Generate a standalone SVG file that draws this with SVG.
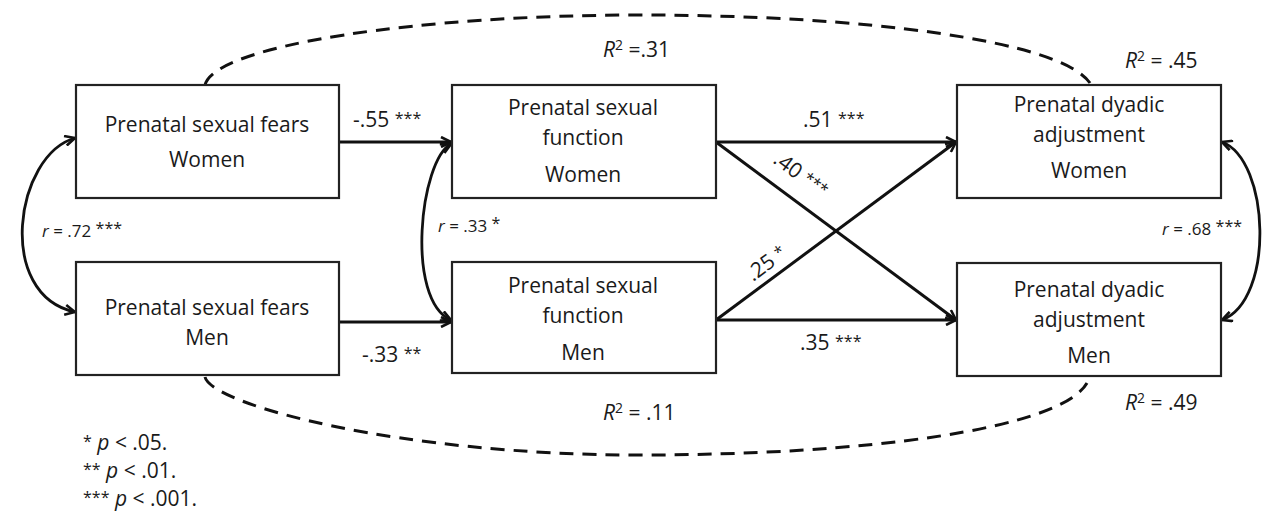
<svg xmlns="http://www.w3.org/2000/svg" width="1267" height="513" viewBox="0 0 1267 513">
<style>
.box{fill:#fff;stroke:#222;stroke-width:2.2}
.nt{font-family:"Open Sans","Liberation Sans",sans-serif;font-size:21px;fill:#1a1a1a;text-anchor:middle}
.lb{font-family:"Open Sans","Liberation Sans",sans-serif;font-size:21px;fill:#1a1a1a}
.sm{font-family:"Open Sans","Liberation Sans",sans-serif;font-size:17px;fill:#1a1a1a}
.st{font-size:16px}
.sq{font-size:14px}
.it{font-style:italic}
.ar{fill:none;stroke:#111;stroke-width:3}
.cv{fill:none;stroke:#111;stroke-width:2.8}
.ds{fill:none;stroke:#111;stroke-width:3;stroke-dasharray:14 9}
</style>
<defs>
<marker id="ah" viewBox="0 0 12 12" refX="11" refY="6" markerWidth="12" markerHeight="12" markerUnits="userSpaceOnUse" orient="auto-start-reverse">
<path d="M1,1 L11,6 L1,11" fill="none" stroke="#111" stroke-width="2.6"/>
</marker>
</defs>
<g id="connectors">
<path class="ds" d="M205,85 C215,45 420,15 640,15 C860,15 1060,40 1090,83"/>
<path class="ds" d="M205,377 C212,405 400,455 640,455 C860,455 1060,430 1087,383"/>
<line class="ar" x1="339" y1="142" x2="451" y2="142" marker-end="url(#ah)"/>
<line class="ar" x1="339" y1="322" x2="451" y2="322" marker-end="url(#ah)"/>
<line class="ar" x1="716" y1="142" x2="956" y2="142" marker-end="url(#ah)"/>
<line class="ar" x1="716" y1="320" x2="956" y2="320" marker-end="url(#ah)"/>
<line class="ar" x1="716" y1="142" x2="956" y2="320" marker-end="url(#ah)"/>
<line class="ar" x1="716" y1="320" x2="956" y2="142" marker-end="url(#ah)"/>
<path class="cv" d="M75,138 C15,155 -5,295 75,312" marker-start="url(#ah)" marker-end="url(#ah)"/>
<path class="cv" d="M451,144 C420,160 405,300 451,320" marker-start="url(#ah)" marker-end="url(#ah)"/>
<path class="cv" d="M1222,142 C1270,160 1275,300 1222,320" marker-start="url(#ah)" marker-end="url(#ah)"/>
</g>
<g id="fearsW"><rect class="box" x="76" y="85" width="263" height="113"/><text class="nt" x="207" y="132">Prenatal sexual fears</text><text class="nt" x="207" y="167">Women</text></g>
<g id="fearsM"><rect class="box" x="76" y="262" width="263" height="113"/><text class="nt" x="207" y="315">Prenatal sexual fears</text><text class="nt" x="207" y="345">Men</text></g>
<g id="funcW"><rect class="box" x="452" y="85" width="264" height="113"/><text class="nt" x="583" y="115">Prenatal sexual</text><text class="nt" x="583" y="145">function</text><text class="nt" x="583" y="182">Women</text></g>
<g id="funcM"><rect class="box" x="452" y="262" width="264" height="111"/><text class="nt" x="583" y="293">Prenatal sexual</text><text class="nt" x="583" y="323">function</text><text class="nt" x="583" y="360">Men</text></g>
<g id="dyadW"><rect class="box" x="957" y="85" width="264" height="113"/><text class="nt" x="1089" y="112">Prenatal dyadic</text><text class="nt" x="1089" y="142">adjustment</text><text class="nt" x="1089" y="178">Women</text></g>
<g id="dyadM"><rect class="box" x="957" y="263" width="264" height="113"/><text class="nt" x="1089" y="297">Prenatal dyadic</text><text class="nt" x="1089" y="327">adjustment</text><text class="nt" x="1089" y="363">Men</text></g>
<g id="labels">
<text class="lb" x="603" y="57"><tspan class="it">R</tspan><tspan class="sq" dy="-7">2</tspan><tspan dy="7"> =.31</tspan></text>
<text class="lb" x="1125" y="68"><tspan class="it">R</tspan><tspan class="sq" dy="-7">2</tspan><tspan dy="7"> = .45</tspan></text>
<text class="lb" x="603" y="420"><tspan class="it">R</tspan><tspan class="sq" dy="-7">2</tspan><tspan dy="7"> = .11</tspan></text>
<text class="lb" x="1125" y="410"><tspan class="it">R</tspan><tspan class="sq" dy="-7">2</tspan><tspan dy="7"> = .49</tspan></text>
<text class="lb" x="353" y="127">-.55 <tspan class="st" dy="-3">***</tspan></text>
<text class="lb" x="803" y="127">.51 <tspan class="st" dy="-3">***</tspan></text>
<text class="lb" x="362" y="362">-.33 <tspan class="st" dy="-3">**</tspan></text>
<text class="lb" x="800" y="350">.35 <tspan class="st" dy="-3">***</tspan></text>
<text class="lb" transform="translate(772,162) rotate(36.5)">.40 <tspan class="st" dy="-3">***</tspan></text>
<text class="lb" transform="translate(753,282) rotate(-36.5)">.25 <tspan class="st" dy="-3">*</tspan></text>
<text class="sm" x="42" y="237"><tspan class="it">r</tspan> = .72 <tspan class="st" dy="-3">***</tspan></text>
<text class="sm" x="438" y="232"><tspan class="it">r</tspan> = .33 <tspan class="st" dy="-3">*</tspan></text>
<text class="sm" x="1162" y="235"><tspan class="it">r</tspan> = .68 <tspan class="st" dy="-3">***</tspan></text>
<text class="lb" x="83" y="450"><tspan class="st" dy="-3">*</tspan><tspan dy="3"> </tspan><tspan class="it">p</tspan> &lt; .05.</text>
<text class="lb" x="83" y="478"><tspan class="st" dy="-3">**</tspan><tspan dy="3"> </tspan><tspan class="it">p</tspan> &lt; .01.</text>
<text class="lb" x="83" y="506"><tspan class="st" dy="-3">***</tspan><tspan dy="3"> </tspan><tspan class="it">p</tspan> &lt; .001.</text>
</g>
</svg>
